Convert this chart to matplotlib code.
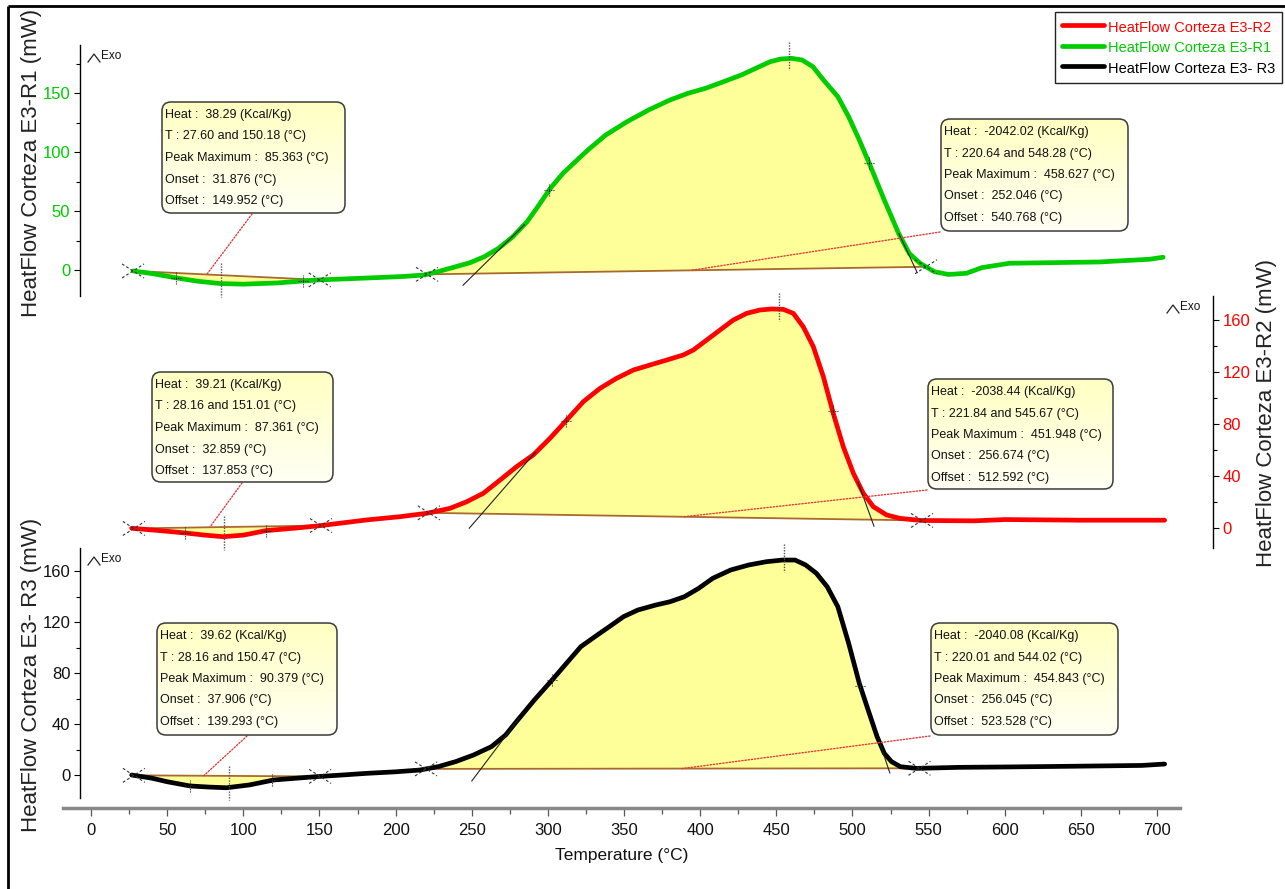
import numpy as np
import matplotlib
matplotlib.use("Agg")
import matplotlib.pyplot as plt
from matplotlib.patches import FancyBboxPatch, ConnectionPatch
from matplotlib.colors import LinearSegmentedColormap
from matplotlib.ticker import MultipleLocator

W, H = 1285, 889
SANS = ['Liberation Sans', 'DejaVu Sans']
plt.rcParams['font.family'] = SANS

# ---------------- heat-flow curves (°C, mW) ----------------
temp_r1 = [27.6, 40, 56.5, 70, 85, 100, 122, 148, 181, 205, 219, 227.8, 239.5,
           248.9, 258.3, 267.6, 277, 286.4, 293.4, 301.6, 309.9, 319.2, 326.3,
           338, 352, 366.1, 380.2, 391.9, 403.6, 415.4, 427.1, 436.5, 445.9,
           452.9, 459.9, 466.9, 474, 481, 490.4, 497.5, 504.5, 511.5, 520.9,
           530.3, 537.3, 544.4, 553.7, 563, 574.8, 585, 603, 630, 662, 695, 704]
hf_r1 = [-0.8, -3, -6.8, -9.5, -11.5, -12, -11, -8.5, -6.8, -5.5, -4.2, -1.4, 2.8,
         6.2, 11.3, 18.4, 28.2, 41, 53.7, 69.2, 81.9, 93.2, 101.7,
         114.4, 125.7, 135.6, 144.1, 149.7, 154, 159.6, 165.3, 170.9, 176.5,
         178.8, 179.4, 178, 172.3, 161, 146.9, 129.9, 110.2, 89, 59.3,
         31.1, 14.1, 5.7, -1.4, -3.8, -2.8, 2, 5.7, 6.2, 6.8, 9.1, 10.8]

temp_r2 = [26.7, 45, 61.7, 75, 86.7, 100, 115, 135, 150.4, 181, 202.9, 220.4,
           235.7, 246.7, 257.6, 268.6, 279.5, 290.4, 301.4, 312.4, 323.3, 334.2,
           345.2, 356.1, 367.1, 378, 388.9, 395.5, 404.3, 413, 421.8, 430.5,
           439.3, 447, 454.6, 461.2, 467.7, 474.3, 480.9, 487.4, 494, 500.6,
           507.1, 513.7, 522.5, 531.2, 545, 580, 600, 650, 705]
hf_r2 = [-0.2, -2, -3.8, -5.5, -6.7, -5.5, -2, 0, 1.8, 6.2, 8.7, 11.3,
         15.1, 20.2, 26.7, 36.9, 47.2, 56.2, 69, 83.1, 97.2, 107.4,
         115.2, 121.5, 125.4, 129.2, 133.1, 136.9, 144.6, 152.3, 160, 165.1,
         167.7, 168.5, 168.2, 165.1, 154.8, 139.5, 116.4, 88.2, 62.5, 42.1,
         26.7, 16.4, 10, 7.4, 5.8, 5.5, 6.5, 6, 6]

temp_r3 = [26.7, 40, 49.7, 65, 78, 89, 104, 120, 135, 148, 165, 181, 200, 216,
           227.8, 239.5, 251.2, 262.9, 272.3, 279.3, 291.1, 302.8, 312.2, 321.6,
           330.9, 340.3, 349.7, 359.1, 370.8, 380.2, 389.6, 399, 408.3, 420.1,
           431.8, 443.5, 454.1, 462.3, 469.3, 476.3, 483.4, 490.4, 497.5, 504.5,
           510.3, 516.2, 520.9, 525.6, 531.5, 542, 570, 600, 640, 690, 705]
hf_r3 = [0, -2.5, -5.2, -8.6, -9.5, -10, -7.8, -3.9, -2.5, -1.3, 0, 1.3, 2.5, 3.9,
         6.5, 10.5, 15.7, 22.2, 31.4, 41.8, 58.8, 74.5, 87.6, 100.6,
         108.5, 116.3, 124.2, 129.4, 133.3, 135.9, 139.8, 146.4, 154.3, 160.8,
         164.7, 167.3, 168.6, 168.6, 164.7, 158.2, 147.7, 132, 103.3, 71.9,
         51, 30, 17, 10.5, 6.5, 5.2, 6, 6.3, 6.8, 7.5, 8.6]

series_names = ['HeatFlow Corteza E3-R1', 'HeatFlow Corteza E3-R2', 'HeatFlow Corteza E3- R3']
axis_titles = ['HeatFlow Corteza E3-R1 (mW)', 'HeatFlow Corteza E3-R2 (mW)',
               'HeatFlow Corteza E3- R3 (mW)']

# ---------------- peak integration results (R1, R2, R3) ----------------
endo_heat = [38.29, 39.21, 39.62]
endo_t1 = [27.60, 28.16, 28.16]
endo_t2 = [150.18, 151.01, 150.47]
endo_peak = [85.363, 87.361, 90.379]
endo_onset = [31.876, 32.859, 37.906]
endo_offset = [149.952, 137.853, 139.293]

exo_heat = [-2042.02, -2038.44, -2040.08]
exo_t1 = [220.64, 221.84, 220.01]
exo_t2 = [548.28, 545.67, 544.02]
exo_peak = [458.627, 451.948, 454.843]
exo_onset = [252.046, 256.674, 256.045]
exo_offset = [540.768, 512.592, 523.528]

# temperatures where the onset / offset tangents touch each curve
tangent_on = [283, 290, 280]
tangent_off = [531, 504, 518]
# temperatures of the small cross marks on each curve
endo_marks = [[56, 139], [62, 115], [65, 119]]
exo_marks = [[301, 511], [312, 487], [303, 505]]
# temperatures on the baselines that the note pointers lead to
pointer_endo = [76, 78, 74]
pointer_exo = [394, 389, 388]

# ---------------- layout (pixels) ----------------
X_ZERO_PX, PX_PER_DEG = 91.0, 1.5229
AX_L, AX_R = 63, 1213
SPINE_X = 80
panels = [  # top, bottom, pixel row of 0 mW, pixels per mW
    (45, 296, 270, 1.18),
    (296, 548, 528, 1.30),
    (548, 798, 775, 1.275),
]
sides = ['left', 'right', 'left']
majors = [50, 40, 40]
minors = [25, 20, 20]
colors = ['#00CC00', '#FF0000', '#000000']
tick_colors = ['#00CC00', '#FF0000', '#111111']
label_xy = [(-0.0183, 0.53), (1.0374, 0.536), (-0.0183, 0.492)]
endo_boxes = [(162, 102, 345, 213), (152, 372, 333, 482), (157, 623, 337, 735)]
exo_boxes = [(941, 119, 1128, 231), (928, 379, 1113, 489), (931, 623, 1118, 735)]
exo_marks_px = [(88, 57), (1167, 308), (88, 560)]

YELLOW = '#FFFF99'
BASE = '#A86A2C'

fig = plt.figure(figsize=(W / 100, H / 100), dpi=100)
fig.patch.set_facecolor('white')


def fx(px):
    return px / W


def fy(py):
    return 1 - py / H


def offset_segment(ax, t, y, d1, d2, **kw):
    """Segment between two pixel offsets around a data point."""
    x0, y0 = ax.transData.transform((t, y))
    inv = ax.transData.inverted()
    a = inv.transform((x0 + d1[0], y0 + d1[1]))
    b = inv.transform((x0 + d2[0], y0 + d2[1]))
    ax.plot([a[0], b[0]], [a[1], b[1]], clip_on=False, **kw)


def x_cross(ax, t, y):
    kw = dict(color='#333333', lw=0.8, ls=(0, (2.5, 2)), zorder=6)
    offset_segment(ax, t, y, (-11, -7), (11, 7), **kw)
    offset_segment(ax, t, y, (-11, 7), (11, -7), **kw)


def plus_cross(ax, t, y):
    kw = dict(color='#222222', lw=0.8, ls=(0, (1, 1)), zorder=6)
    offset_segment(ax, t, y, (-5, 0), (5, 0), **kw)
    offset_segment(ax, t, y, (0, -6), (0, 6), **kw)


def box_text(heat, t1, t2, pk, on, off):
    return [f'Heat :  {heat:.2f} (Kcal/Kg)',
            f'T : {t1:.2f} and {t2:.2f} (°C)',
            f'Peak Maximum :  {pk:.3f} (°C)',
            f'Onset :  {on:.3f} (°C)',
            f'Offset :  {off:.3f} (°C)']


curves = [(temp_r1, hf_r1), (temp_r2, hf_r2), (temp_r3, hf_r3)]
axes, handles = [], []
for i, ((top, bot, zero, scale), (tt, hh)) in enumerate(zip(panels, curves)):
    ax = fig.add_axes([fx(AX_L), fy(bot), (AX_R - AX_L) / W, (bot - top) / H])
    ax.set_xlim((AX_L - X_ZERO_PX) / PX_PER_DEG, (AX_R - X_ZERO_PX) / PX_PER_DEG)
    ax.set_ylim((zero - bot) / scale, (zero - top) / scale)
    ax.patch.set_visible(False)
    for s in ax.spines.values():
        s.set_visible(False)
    ax.tick_params(axis='x', which='both', bottom=False, labelbottom=False)
    side = sides[i]
    sp = ax.spines[side]
    sp.set_visible(True)
    sp.set_linewidth(1.0)
    if side == 'left':
        sp.set_position(('axes', (SPINE_X - AX_L) / (AX_R - AX_L)))
        ax.yaxis.set_ticks_position('left')
    else:
        ax.yaxis.set_ticks_position('right')
        ax.yaxis.set_label_position('right')
    ax.yaxis.set_major_locator(MultipleLocator(majors[i]))
    ax.yaxis.set_minor_locator(MultipleLocator(minors[i]))
    ax.tick_params(axis='y', which='major', length=4.5, width=0.8, pad=2.5,
                   labelsize=12, labelcolor=tick_colors[i])
    ax.tick_params(axis='y', which='minor', length=3, width=0.8)
    ax.set_ylabel(axis_titles[i], fontsize=16, color='#222222')
    ax.yaxis.set_label_coords(*label_xy[i])

    t = np.asarray(tt, float)
    h = np.asarray(hh, float)

    def cv(x, t=t, h=h):
        return np.interp(x, t, h)

    # endothermic and exothermic peak areas
    for (t1, t2, sign) in [(endo_t1[i], endo_t2[i], -1), (exo_t1[i], exo_t2[i], 1)]:
        inside = t[(t > t1) & (t < t2)]
        xs = np.concatenate([[t1], inside, [t2]])
        ys = cv(xs)
        b1, b2 = cv(t1), cv(t2)
        base = b1 + (b2 - b1) * (xs - t1) / (t2 - t1)
        where = ys >= base if sign > 0 else ys <= base
        ax.fill_between(xs, base, ys, where=where, interpolate=True,
                        color=YELLOW, lw=0, zorder=1)
        ax.plot([t1, t2], [b1, b2], color=BASE, lw=1.3, zorder=2)

    line, = ax.plot(t, h, color=colors[i], lw=3.4, zorder=3,
                    solid_capstyle='round', solid_joinstyle='round')
    handles.append(line)
    axes.append((ax, cv))

fig.canvas.draw()

for i, (ax, cv) in enumerate(axes):
    def base_at(x, t1, t2, cv=cv):
        return cv(t1) + (cv(t2) - cv(t1)) * (x - t1) / (t2 - t1)

    for t1, t2 in [(endo_t1[i], endo_t2[i]), (exo_t1[i], exo_t2[i])]:
        x_cross(ax, t1, cv(t1))
        x_cross(ax, t2, cv(t2))
    for m in endo_marks[i] + exo_marks[i]:
        plus_cross(ax, m, cv(m))
    dot = dict(color='#555555', lw=1.0, ls=(0, (1, 1)), zorder=6)
    offset_segment(ax, exo_peak[i], cv(exo_peak[i]), (0, 16), (0, -12), **dot)
    offset_segment(ax, endo_peak[i], cv(endo_peak[i]), (0, 21), (0, -13), **dot)

    # onset / offset tangents
    t1, t2 = exo_t1[i], exo_t2[i]
    on, ton = exo_onset[i], tangent_on[i]
    p_on = base_at(on, t1, t2)
    slope = (cv(ton) - p_on) / (ton - on)
    xa_ = np.array([on - 0.25 * (ton - on), ton + 0.05 * (ton - on)])
    ax.plot(xa_, p_on + slope * (xa_ - on), color='#222222', lw=0.8, zorder=5)
    off, toff = exo_offset[i], tangent_off[i]
    p_off = base_at(off, t1, t2)
    slope = (p_off - cv(toff)) / (off - toff)
    xb_ = np.array([toff - 0.05 * (off - toff), off + 0.18 * (off - toff)])
    ax.plot(xb_, p_off + slope * (xb_ - off), color='#222222', lw=0.8, zorder=5)

# ---------------- shared temperature axis ----------------
xa = fig.add_axes([fx(63), fy(808), (1180 - 63) / W, 0.0001])
xa.set_xlim((63 - X_ZERO_PX) / PX_PER_DEG, (1180 - X_ZERO_PX) / PX_PER_DEG)
xa.patch.set_visible(False)
for k in ['left', 'right', 'top']:
    xa.spines[k].set_visible(False)
xa.spines['bottom'].set_color('#888888')
xa.spines['bottom'].set_linewidth(2.5)
xa.set_yticks([])
xa.xaxis.set_major_locator(MultipleLocator(50))
xa.xaxis.set_minor_locator(MultipleLocator(25))
xa.tick_params(axis='x', which='major', length=6, width=0.9, color='#555555',
               pad=5, labelsize=12, labelcolor='#111111')
xa.tick_params(axis='x', which='minor', length=4, width=0.9, color='#555555')
xa.set_xlabel('Temperature (°C)', fontsize=12.5, labelpad=7, color='#111111')

# ---------------- notes, frame and legend ----------------
ov = fig.add_axes([0, 0, 1, 1], zorder=10)
ov.set_axis_off()
ov.patch.set_visible(False)
grad = np.linspace(0, 1, 64)[:, None]
note_cmap = LinearSegmentedColormap.from_list('note', ['#FFFFC2', '#FFFFF4'])

for i, (ax, cv) in enumerate(axes):
    for rect, lines, tp, (t1, t2), anchor in [
        (endo_boxes[i],
         box_text(endo_heat[i], endo_t1[i], endo_t2[i], endo_peak[i], endo_onset[i], endo_offset[i]),
         pointer_endo[i], (endo_t1[i], endo_t2[i]), 'bottom'),
        (exo_boxes[i],
         box_text(exo_heat[i], exo_t1[i], exo_t2[i], exo_peak[i], exo_onset[i], exo_offset[i]),
         pointer_exo[i], (exo_t1[i], exo_t2[i]), 'left')]:
        l, t, r, b = rect
        patch = FancyBboxPatch((l, t), r - l, b - t, boxstyle='round,pad=0,rounding_size=9',
                               fc='none', ec='#3a3a3a', lw=1.1, zorder=3)
        ov.add_patch(patch)
        im = ov.imshow(grad, cmap=note_cmap, extent=(l, r, b, t), aspect='auto',
                       zorder=2, interpolation='bilinear')
        im.set_clip_path(patch)
        for k, s in enumerate(lines):
            ov.text(l + 3, t + 13 + k * 21.5, s, fontsize=9, va='center', ha='left',
                    color='#111111', zorder=4)
        start = (l + 90, b + 1) if anchor == 'bottom' else (l - 1, b + 1)
        yb = cv(t1) + (cv(t2) - cv(t1)) * (tp - t1) / (t2 - t1)
        con = ConnectionPatch(xyA=start, coordsA=ov.transData, xyB=(tp, yb),
                              coordsB=ax.transData, color='#E03C3C', lw=1.0,
                              ls=(0, (1, 1.3)), zorder=1)
        ov.add_artist(con)

for (px, py) in exo_marks_px:
    ov.plot([px, px + 6, px + 12], [py + 5, py - 3, py + 5], color='#222222', lw=0.9)
    ov.text(px + 13, py - 1, 'Exo', fontsize=8.5, va='center', ha='left', color='#111111')

ov.plot([8, W], [6, 6], color='black', lw=2, solid_capstyle='butt')
ov.plot([8, 8], [6, H], color='black', lw=2, solid_capstyle='butt')
ov.set_xlim(0, W)
ov.set_ylim(H, 0)

order = [1, 0, 2]
leg = fig.legend([handles[k] for k in order], [series_names[k] for k in order],
                 loc='upper right', bbox_to_anchor=(fx(1282), fy(12)),
                 frameon=True, fancybox=False, edgecolor='#222222', framealpha=1,
                 fontsize=10.5, handlelength=2.9, handleheight=1.45,
                 handletextpad=0.25, borderpad=0.46, labelspacing=0.2,
                 borderaxespad=0, labelcolor=[colors[k] for k in order])
leg.get_frame().set_linewidth(1.0)
leg.set_zorder(20)

fig.savefig('out.png', dpi=100, facecolor='white')
